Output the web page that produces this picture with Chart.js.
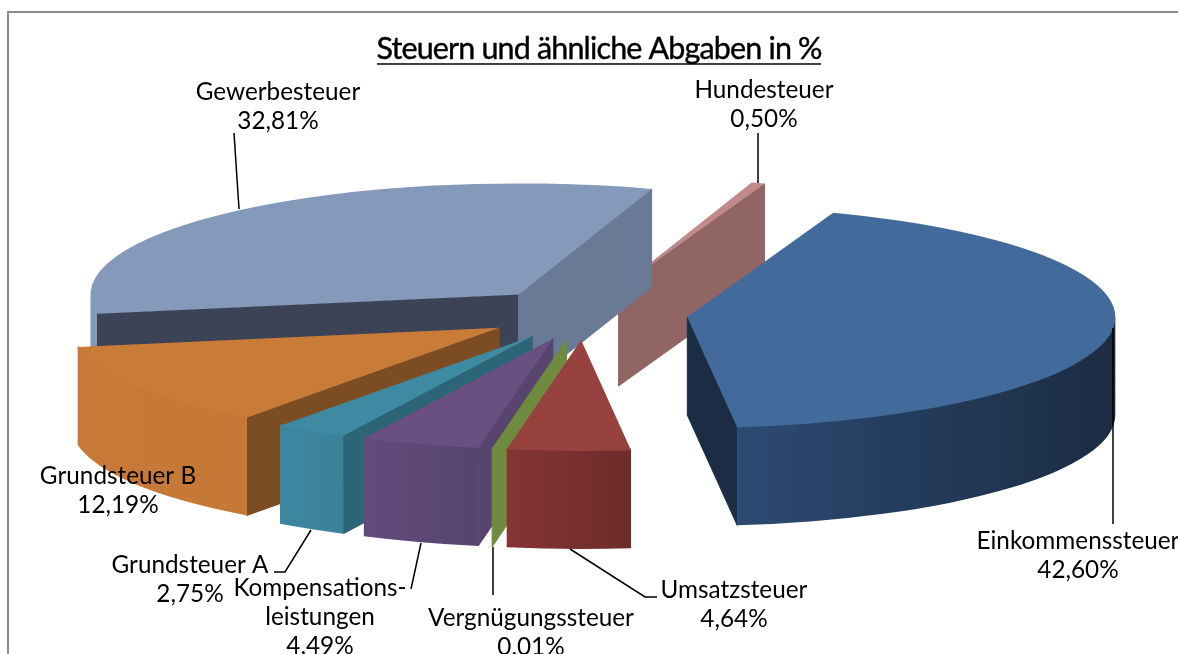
<!DOCTYPE html>
<html lang="de">
<head>
<meta charset="utf-8">
<title>Steuern und ähnliche Abgaben in %</title>
<script src="https://cdn.jsdelivr.net/npm/chart.js@4/dist/chart.umd.js"></script>
<style>
    html, body { margin: 0; padding: 0; background: #fff; overflow: hidden; }
    #frame { position: absolute; left: 7px; top: 11px; width: 1300px; height: 800px; border: 2px solid #8c8c8c; }
    #chartSteuern { position: absolute; left: 0; top: 0; }
</style>
</head>
<body>
<div id="frame"></div>
<canvas id="chartSteuern" width="1178" height="654"></canvas>
<script>
// Daten
var titel = 'Steuern und ähnliche Abgaben in %';
var kategorien = ['Gewerbesteuer', 'Hundesteuer', 'Einkommenssteuer', 'Umsatzsteuer', 'Vergnügungssteuer', 'Kompensationsleistungen', 'Grundsteuer A', 'Grundsteuer B'];
var werte = [32.81, 0.50, 42.60, 4.64, 0.01, 4.49, 2.75, 12.19];

// Farben: Deckel, Schnittflaeche, Mantel links, Mantel rechts
var farbenDeckel = ['#8599bb', '#c08a8a', '#426a9a', '#984240', '#6e8b3f', '#6a5082', '#3e8aa3', '#c97b38'];
var farbenStart = ['#3c4357', '#926565', '#1b2d44', '#6e2c2b', '#6e8b3f', '#57446f', '#2c6577', '#7c4c22'];
var farbenEnde = ['#687a95', '#926565', '#1b2d44', '#6e2c2b', '#6e8b3f', '#54426e', '#2c6577', '#7c4c22'];
var mantelLinks = ['#8499ba', '#926565', '#2c4a72', '#843433', '#6e8b3f', '#624b7b', '#3c87a0', '#c77a37'];
var mantelRechts = ['#8499ba', '#926565', '#1b2c42', '#6e2c2b', '#6e8b3f', '#57446f', '#3a8299', '#c67936'];

// Abstand der Stuecke von der Mitte
var explosion = [100, 106, 104, 100, 100, 100, 100, 100];

// Beschriftung: Zeilen, Mitte x, Grundlinie y der ersten Zeile
var beschriftungZeilen = [['Gewerbesteuer'], ['Hundesteuer'], ['Einkommenssteuer'], ['Umsatzsteuer'], ['Vergnügungssteuer'], ['Kompensations-', 'leistungen'], ['Grundsteuer A'], ['Grundsteuer B']];
var beschriftungX = [278, 764, 1078, 734, 531, 320, 190, 118];
var beschriftungY = [100, 98, 549, 598, 626, 596, 573, 484];

// Fuehrungslinien
var linien = [
    [[234, 133], [239, 209]],
    [[758, 133], [758, 183]],
    [[1113, 328], [1113, 524]],
    [[570, 549], [645, 597], [657, 597]],
    [[493, 547], [493, 595]],
    [[421, 543], [411, 589]],
    [[311, 530], [285, 572], [274, 572]]
];

var ABFLACHUNG = 0.2593;
var TIEFE = 98;
var ZEILE = 29;

function sichtbareBereiche(start, ende) {
    // Mantel ist nur sichtbar wo sin(t) > 0
    var bereiche = [];
    for (var n = -2; n <= 2; n++) {
        var von = Math.max(start, n * 2 * Math.PI);
        var bis = Math.min(ende, n * 2 * Math.PI + Math.PI);
        if (bis > von) bereiche.push([von, bis]);
    }
    return bereiche;
}

function zeichneSchnitt(ctx, cx, cy, r, winkel, farbe) {
    var ax = cx + r * Math.cos(winkel);
    var ay = cy + r * ABFLACHUNG * Math.sin(winkel);
    ctx.beginPath();
    ctx.moveTo(cx, cy);
    ctx.lineTo(ax, ay);
    ctx.lineTo(ax, ay + TIEFE);
    ctx.lineTo(cx, cy + TIEFE);
    ctx.closePath();
    ctx.fillStyle = farbe;
    ctx.strokeStyle = farbe;
    ctx.lineWidth = 1;
    ctx.fill();
    ctx.stroke();
}

function zeichneMantel(ctx, cx, cy, r, von, bis, i) {
    var x1 = cx + r * Math.cos(bis);
    var x2 = cx + r * Math.cos(von);
    var links = Math.min(x1, x2);
    var rechts = Math.max(x1, x2);
    if (von < 0 && bis > 0 || von < Math.PI && bis > Math.PI) rechts = Math.max(rechts, cx + r);
    var verlauf = ctx.createLinearGradient(links, 0, rechts, 0);
    verlauf.addColorStop(0, mantelLinks[i]);
    verlauf.addColorStop(1, mantelRechts[i]);
    ctx.beginPath();
    // obere Kante etwas unter den Deckel schieben, sonst bleibt eine helle Naht
    ctx.ellipse(cx, cy - 1.5, r, r * ABFLACHUNG, 0, von, bis, false);
    ctx.ellipse(cx, cy + TIEFE, r, r * ABFLACHUNG, 0, bis, von, true);
    ctx.closePath();
    ctx.fillStyle = verlauf;
    ctx.fill();
}

function zeichneStueck(ctx, arc, i) {
    var mitte = (arc.startAngle + arc.endAngle) / 2;
    var dx = Math.cos(mitte) * explosion[i];
    var dy = Math.sin(mitte) * explosion[i] * ABFLACHUNG;
    var cx = arc.x + dx;
    var cy = arc.y + dy;
    var r = arc.outerRadius;

    if (Math.cos(arc.startAngle) < 0) zeichneSchnitt(ctx, cx, cy, r, arc.startAngle, farbenStart[i]);
    if (Math.cos(arc.endAngle) > 0) zeichneSchnitt(ctx, cx, cy, r, arc.endAngle, farbenEnde[i]);
    sichtbareBereiche(arc.startAngle, arc.endAngle).forEach(function(b) {
        zeichneMantel(ctx, cx, cy, r, b[0], b[1], i);
    });

    // Deckel: das Chart.js Element selbst, nur flachgedrueckt
    ctx.save();
    ctx.translate(cx, cy);
    ctx.scale(1, ABFLACHUNG);
    ctx.translate(-arc.x, -arc.y);
    arc.draw(ctx);
    ctx.restore();
}

var torte3d = {
    id: 'torte3d',
    beforeDatasetDraw: function(chart, args) {
        var ctx = chart.ctx;
        var arcs = args.meta.data;
        var reihenfolge = arcs.map(function(a, i) { return i; });
        reihenfolge.sort(function(a, b) {
            var ma = (arcs[a].startAngle + arcs[a].endAngle) / 2;
            var mb = (arcs[b].startAngle + arcs[b].endAngle) / 2;
            return Math.sin(ma) - Math.sin(mb);
        });
        reihenfolge.forEach(function(i) { zeichneStueck(ctx, arcs[i], i); });
        return false;
    },
    afterDatasetsDraw: function(chart) {
        var ctx = chart.ctx;
        ctx.save();
        ctx.strokeStyle = '#000';
        ctx.lineWidth = 1.5;
        linien.forEach(function(l) {
            ctx.beginPath();
            l.forEach(function(p, j) {
                if (j === 0) ctx.moveTo(p[0], p[1]); else ctx.lineTo(p[0], p[1]);
            });
            ctx.stroke();
        });

        ctx.fillStyle = '#000';
        ctx.textAlign = 'center';
        ctx.textBaseline = 'alphabetic';
        ctx.font = '24.3px Lato';
        werte.forEach(function(w, i) {
            var zeilen = beschriftungZeilen[i].concat(w.toFixed(2).replace('.', ',') + '%');
            zeilen.forEach(function(z, j) {
                ctx.fillText(z, beschriftungX[i], beschriftungY[i] + j * ZEILE);
            });
        });

        // Titel etwas kraeftiger und enger gesetzt
        ctx.font = '30.5px Lato';
        ctx.letterSpacing = '-0.85px';
        ctx.lineWidth = 0.4;
        ctx.fillText(titel, 599, 59);
        ctx.strokeText(titel, 599, 59);
        ctx.letterSpacing = '0px';
        ctx.lineWidth = 1.5;
        ctx.beginPath();
        ctx.moveTo(377, 64);
        ctx.lineTo(821, 64);
        ctx.stroke();
        ctx.restore();
    }
};

new Chart(document.getElementById('chartSteuern'), {
    type: 'pie',
    data: {
        labels: kategorien,
        datasets: [{
            data: werte,
            backgroundColor: farbenDeckel,
            borderWidth: 0,
            offset: 0
        }]
    },
    options: {
        responsive: false,
        animation: false,
        rotation: -100,
        radius: 428,
        layout: { padding: { left: 0, right: 10, top: 0, bottom: 26 } },
        plugins: { legend: { display: false }, tooltip: { enabled: false } }
    },
    plugins: [torte3d]
});
</script>
</body>
</html>
